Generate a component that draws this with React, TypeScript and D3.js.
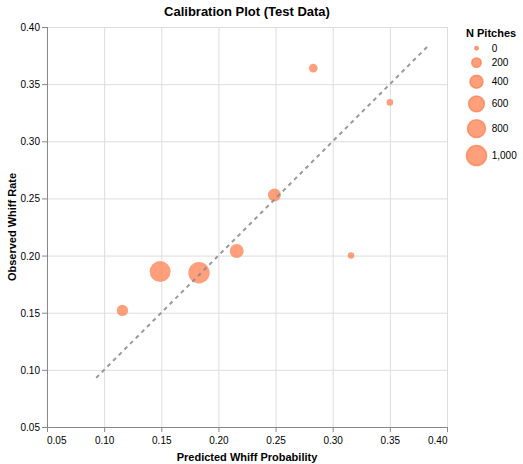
import React from "react";
import * as d3 from "d3";

const predicted = [0.116, 0.149, 0.183, 0.216, 0.249, 0.283, 0.316, 0.35];
const observed = [0.152, 0.186, 0.185, 0.204, 0.253, 0.364, 0.2, 0.334];
const nPitches = [300, 1100, 1150, 470, 400, 160, 80, 83];
const diagonal = [0.093, 0.383];
const axisTicks = [0.05, 0.1, 0.15, 0.2, 0.25, 0.3, 0.35, 0.4];
const legendValues = [0, 200, 400, 600, 800, 1000];

const FONT = "'Liberation Sans', Arial, Helvetica, sans-serif";
const PT_COLOR = "#ff7f50";
const PT_OPACITY = 0.75;

export default function App() {
  const L = 47, T = 27, W = 400, H = 400;
  const x = d3.scaleLinear().domain([0.05, 0.4]).range([L, L + W]);
  const y = d3.scaleLinear().domain([0.05, 0.4]).range([T + H, T]);
  const nMax = d3.max(nPitches) as number;
  const size = d3.scaleLinear().domain([0, nMax]).range([9, 361]);
  const rad = (v: number) => Math.sqrt(size(v) / Math.PI);

  const line = d3
    .line<number>()
    .x((d) => x(d))
    .y((d) => y(d));

  // legend layout
  const legX = 476.5;
  const legStroke = 1.5;
  const pad = 6.4;
  const legY: number[] = [];
  legendValues.forEach((v, i) => {
    const h = 2 * rad(v) + legStroke;
    if (i === 0) legY.push(48.3);
    else {
      const hp = 2 * rad(legendValues[i - 1]) + legStroke;
      legY.push(legY[i - 1] + hp / 2 + h / 2 + pad);
    }
  });

  return (
    <svg
      width={523}
      height={464}
      style={{ position: "absolute", left: 0, top: 0, background: "#fff" }}
      fontFamily={FONT}
    >
      <rect x={0} y={0} width={523} height={464} fill="#fff" />
      {/* grid */}
      <g stroke="#ddd" strokeWidth={1}>
        {axisTicks.map((t) => (
          <line key={"gx" + t} x1={x(t) + 0.5} x2={x(t) + 0.5} y1={T} y2={T + H} />
        ))}
        {axisTicks.map((t) => (
          <line key={"gy" + t} x1={L} x2={L + W} y1={y(t) + 0.5} y2={y(t) + 0.5} />
        ))}
      </g>
      {/* x axis */}
      <g>
        <line x1={L} x2={L + W + 1} y1={T + H + 0.5} y2={T + H + 0.5} stroke="#888" />
        {axisTicks.map((t, i) => (
          <g key={"xt" + t}>
            <line x1={x(t) + 0.5} x2={x(t) + 0.5} y1={T + H} y2={T + H + 5} stroke="#888" />
            <text
              x={x(t) + (i === 0 ? 0 : 0.5)}
              y={T + H + 17}
              fontSize={10}
              fill="#000"
              textAnchor={i === 0 ? "start" : i === axisTicks.length - 1 ? "end" : "middle"}
            >
              {d3.format(".2f")(t)}
            </text>
          </g>
        ))}
        <text x={L + W / 2} y={460.5} fontSize={11} fontWeight="bold" textAnchor="middle" fill="#000">
          Predicted Whiff Probability
        </text>
      </g>
      {/* y axis */}
      <g>
        <line x1={L + 0.5} x2={L + 0.5} y1={T} y2={T + H + 1} stroke="#888" />
        {axisTicks.map((t) => (
          <g key={"yt" + t}>
            <line x1={L - 5} x2={L} y1={y(t) + 0.5} y2={y(t) + 0.5} stroke="#888" />
            <text x={L - 7} y={y(t) + 4} fontSize={10} fill="#000" textAnchor="end">
              {d3.format(".2f")(t)}
            </text>
          </g>
        ))}
        <text
          transform={`translate(15.5, ${T + H / 2}) rotate(-90)`}
          fontSize={11}
          fontWeight="bold"
          textAnchor="middle"
          fill="#000"
        >
          Observed Whiff Rate
        </text>
      </g>
      {/* points */}
      {predicted.map((p, i) => (
        <circle
          key={"pt" + i}
          cx={x(p)}
          cy={y(observed[i])}
          r={rad(nPitches[i])}
          fill={PT_COLOR}
          fillOpacity={PT_OPACITY}
        />
      ))}
      {/* diagonal */}
      <path
        d={line(diagonal) || ""}
        fill="none"
        stroke="#888"
        strokeOpacity={0.85}
        strokeWidth={2}
        strokeDasharray="4,4"
      />
      {/* title */}
      <text x={L + W / 2} y={16} fontSize={13} fontWeight="bold" textAnchor="middle" fill="#000">
        Calibration Plot (Test Data)
      </text>
      {/* legend */}
      <g>
        <text x={466} y={37.3} fontSize={11} fontWeight="bold" fill="#000">
          N Pitches
        </text>
        {legendValues.map((v, i) => (
          <g key={"lg" + v}>
            <circle
              cx={legX}
              cy={legY[i]}
              r={rad(v)}
              fill={PT_COLOR}
              fillOpacity={PT_OPACITY}
              stroke={PT_COLOR}
              strokeOpacity={PT_OPACITY}
              strokeWidth={legStroke}
            />
            <text x={491.7} y={legY[i] + 3.5} fontSize={10} fill="#000">
              {d3.format(",")(v)}
            </text>
          </g>
        ))}
      </g>
    </svg>
  );
}
